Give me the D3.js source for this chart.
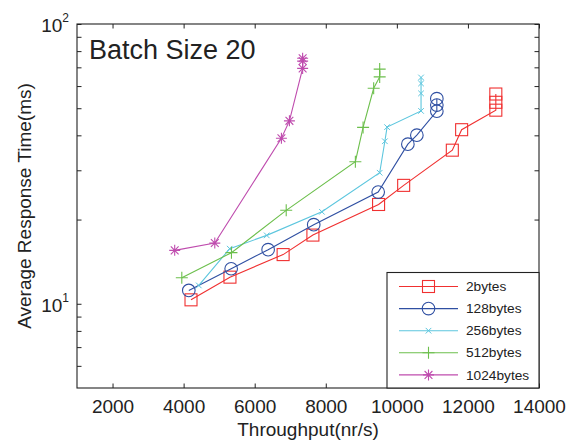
<!DOCTYPE html>
<html>
<head>
<meta charset="utf-8">
<script src="https://cdn.jsdelivr.net/npm/d3@7"></script>
<style>
  html, body { margin: 0; padding: 0; background: #fff; }
  svg { display: block; font-family: "Liberation Sans", Arial, sans-serif; }
</style>
</head>
<body>
<svg id="chart" width="573" height="442"></svg>
<script>
// ---------------- data ----------------
const seriesNames = ["2bytes", "128bytes", "256bytes", "512bytes", "1024bytes"];
const seriesColors = ["#f03030", "#2f4fa2", "#5cc6de", "#6cbf4c", "#bf4cae"];
const seriesMarkers = ["square", "circle", "x", "plus", "star"];

const thr2 = [4208, 5304, 6800, 7638, 9486, 10192, 11561, 11823, 12785, 12785, 12785];
const rt2  = [10.33, 12.45, 14.99, 17.6, 22.64, 26.5, 35.4, 41.9, 49.2, 52.5, 56.2];

const thr128 = [4146, 5338, 6378, 7661, 9475, 10310, 10563, 11125, 11125, 11125];
const rt128  = [11.16, 13.34, 15.61, 19.18, 25.07, 37.2, 40.05, 48.8, 51.3, 54.1];

const thr256 = [4427, 5298, 6339, 7891, 9517, 9663, 9725, 10681, 10681, 10681, 10681];
const rt256  = [11.63, 15.74, 17.56, 21.32, 29.4, 38.1, 42.8, 48.9, 56.5, 61.3, 64.4];

const thr512 = [3949, 5346, 6887, 8833, 9050, 9348, 9517, 9517];
const rt512  = [12.39, 15.23, 21.58, 32.2, 42.7, 58.9, 64.7, 69.0];

const thr1024 = [3749, 4877, 6752, 6977, 7349, 7349, 7349];
const rt1024  = [15.52, 16.48, 39.05, 45.06, 69.4, 73.7, 75.4];

const xTickValues = [2000, 4000, 6000, 8000, 10000, 12000, 14000];
const yMajorTicks = [10, 100];
const yMinorTicks = [6, 7, 8, 9, 20, 30, 40, 50, 60, 70, 80, 90];
const xDomain = [1000, 14000];
const yDomain = [5, 100];

const titleText = "Batch Size 20";
const xLabel = "Throughput(nr/s)";
const yLabel = "Average Response Time(ms)";

// ---------------- layout ----------------
const L = 77, R = 539, T = 24, B = 388;
const svg = d3.select("#chart");
const x = d3.scaleLinear().domain(xDomain).range([L, R]);
const y = d3.scaleLog().domain(yDomain).range([B, T]);
const axisColor = "#222";
const tickLen = 4.5;

// axes ticks (inward)
const gB = svg.append("g").attr("transform", `translate(0,${B})`)
  .call(d3.axisBottom(x).tickValues(xTickValues).tickSize(-tickLen).tickPadding(12).tickFormat(d3.format("d")));
const gT = svg.append("g").attr("transform", `translate(0,${T})`)
  .call(d3.axisTop(x).tickValues(xTickValues).tickSize(-tickLen).tickFormat(""));
const yAll = yMajorTicks.concat(yMinorTicks);
const gL = svg.append("g").attr("transform", `translate(${L},0)`)
  .call(d3.axisLeft(y).tickValues(yAll).tickSize(-tickLen).tickFormat(""));
const gR = svg.append("g").attr("transform", `translate(${R},0)`)
  .call(d3.axisRight(y).tickValues(yAll).tickSize(-tickLen).tickFormat(""));
[gB, gT, gL, gR].forEach(g => {
  g.select(".domain").remove();
  g.selectAll(".tick line").attr("stroke", axisColor).attr("stroke-width", 1);
});
gB.selectAll(".tick text").attr("font-size", 19).attr("fill", "#222")
  .attr("font-family", "Liberation Sans, Arial, sans-serif");

// y major labels 10^n
const yl = svg.append("g");
yMajorTicks.forEach(v => {
  const t = yl.append("text").attr("x", 69).attr("y", y(v) + 8.3)
    .attr("text-anchor", "end").attr("fill", "#222").attr("font-size", 19);
  t.append("tspan").text("10");
  t.append("tspan").attr("font-size", 12).attr("dy", -10).text(String(Math.round(Math.log10(v))));
});

// box
svg.append("rect").attr("x", L).attr("y", T).attr("width", R - L).attr("height", B - T)
  .attr("fill", "none").attr("stroke", axisColor).attr("stroke-width", 1.1);

// labels
svg.append("text").attr("x", (L + R) / 2).attr("y", 436).attr("text-anchor", "middle")
  .attr("font-size", 19).attr("fill", "#222").text(xLabel);
svg.append("text").attr("transform", `translate(31,${(T + B) / 2}) rotate(-90)`)
  .attr("text-anchor", "middle").attr("font-size", 19).attr("fill", "#222").text(yLabel);
svg.append("text").attr("x", 89).attr("y", 58.5).attr("font-size", 27).attr("fill", "#222").text(titleText);

// markers
function drawMarker(g, type, cx, cy, color, scale) {
  const s = scale || 1;
  if (type === "square") {
    const h = 6 * s;
    g.append("rect").attr("x", cx - h).attr("y", cy - h).attr("width", 2 * h).attr("height", 2 * h)
      .attr("fill", "none").attr("stroke", color).attr("stroke-width", 1.1);
  } else if (type === "circle") {
    g.append("circle").attr("cx", cx).attr("cy", cy).attr("r", 6.3 * s)
      .attr("fill", "none").attr("stroke", color).attr("stroke-width", 1.1);
  } else if (type === "x") {
    const h = 2.8 * s;
    g.append("path").attr("d", `M${cx - h},${cy - h}L${cx + h},${cy + h}M${cx - h},${cy + h}L${cx + h},${cy - h}`)
      .attr("stroke", color).attr("stroke-width", 1).attr("fill", "none");
  } else if (type === "plus") {
    const h = 6 * s;
    g.append("path").attr("d", `M${cx - h},${cy}L${cx + h},${cy}M${cx},${cy - h}L${cx},${cy + h}`)
      .attr("stroke", color).attr("stroke-width", 1.1).attr("fill", "none");
  } else if (type === "star") {
    const h = 5.5 * s, d = 3.9 * s;
    g.append("path").attr("d",
      `M${cx - h},${cy}L${cx + h},${cy}M${cx},${cy - h}L${cx},${cy + h}` +
      `M${cx - d},${cy - d}L${cx + d},${cy + d}M${cx - d},${cy + d}L${cx + d},${cy - d}`)
      .attr("stroke", color).attr("stroke-width", 1.1).attr("fill", "none");
  }
}

const allX = [thr2, thr128, thr256, thr512, thr1024];
const allY = [rt2, rt128, rt256, rt512, rt1024];
const line = d3.line().x(d => x(d[0])).y(d => y(d[1]));
const plot = svg.append("g");
allX.forEach((xs, i) => {
  const pts = xs.map((v, j) => [v, allY[i][j]]);
  const g = plot.append("g");
  g.append("path").datum(pts).attr("d", line).attr("fill", "none")
    .attr("stroke", seriesColors[i]).attr("stroke-width", 1.1);
  pts.forEach(p => drawMarker(g, seriesMarkers[i], x(p[0]), y(p[1]), seriesColors[i]));
});

// legend
const lg = svg.append("g");
const lx0 = 387, ly0 = 272.5;
lg.append("rect").attr("x", lx0).attr("y", ly0).attr("width", R - lx0).attr("height", B - ly0)
  .attr("fill", "#fff").attr("stroke", axisColor).attr("stroke-width", 1.1);
seriesNames.forEach((name, i) => {
  const ry = 286.5 + i * 22.1;
  lg.append("line").attr("x1", 399).attr("x2", 458).attr("y1", ry).attr("y2", ry)
    .attr("stroke", seriesColors[i]).attr("stroke-width", 1.1);
  drawMarker(lg, seriesMarkers[i], 428.5, ry, seriesColors[i]);
  lg.append("text").attr("x", 466).attr("y", ry).attr("dy", "0.34em")
    .attr("font-size", 13.7).attr("fill", "#222").text(name);
});
</script>
</body>
</html>
